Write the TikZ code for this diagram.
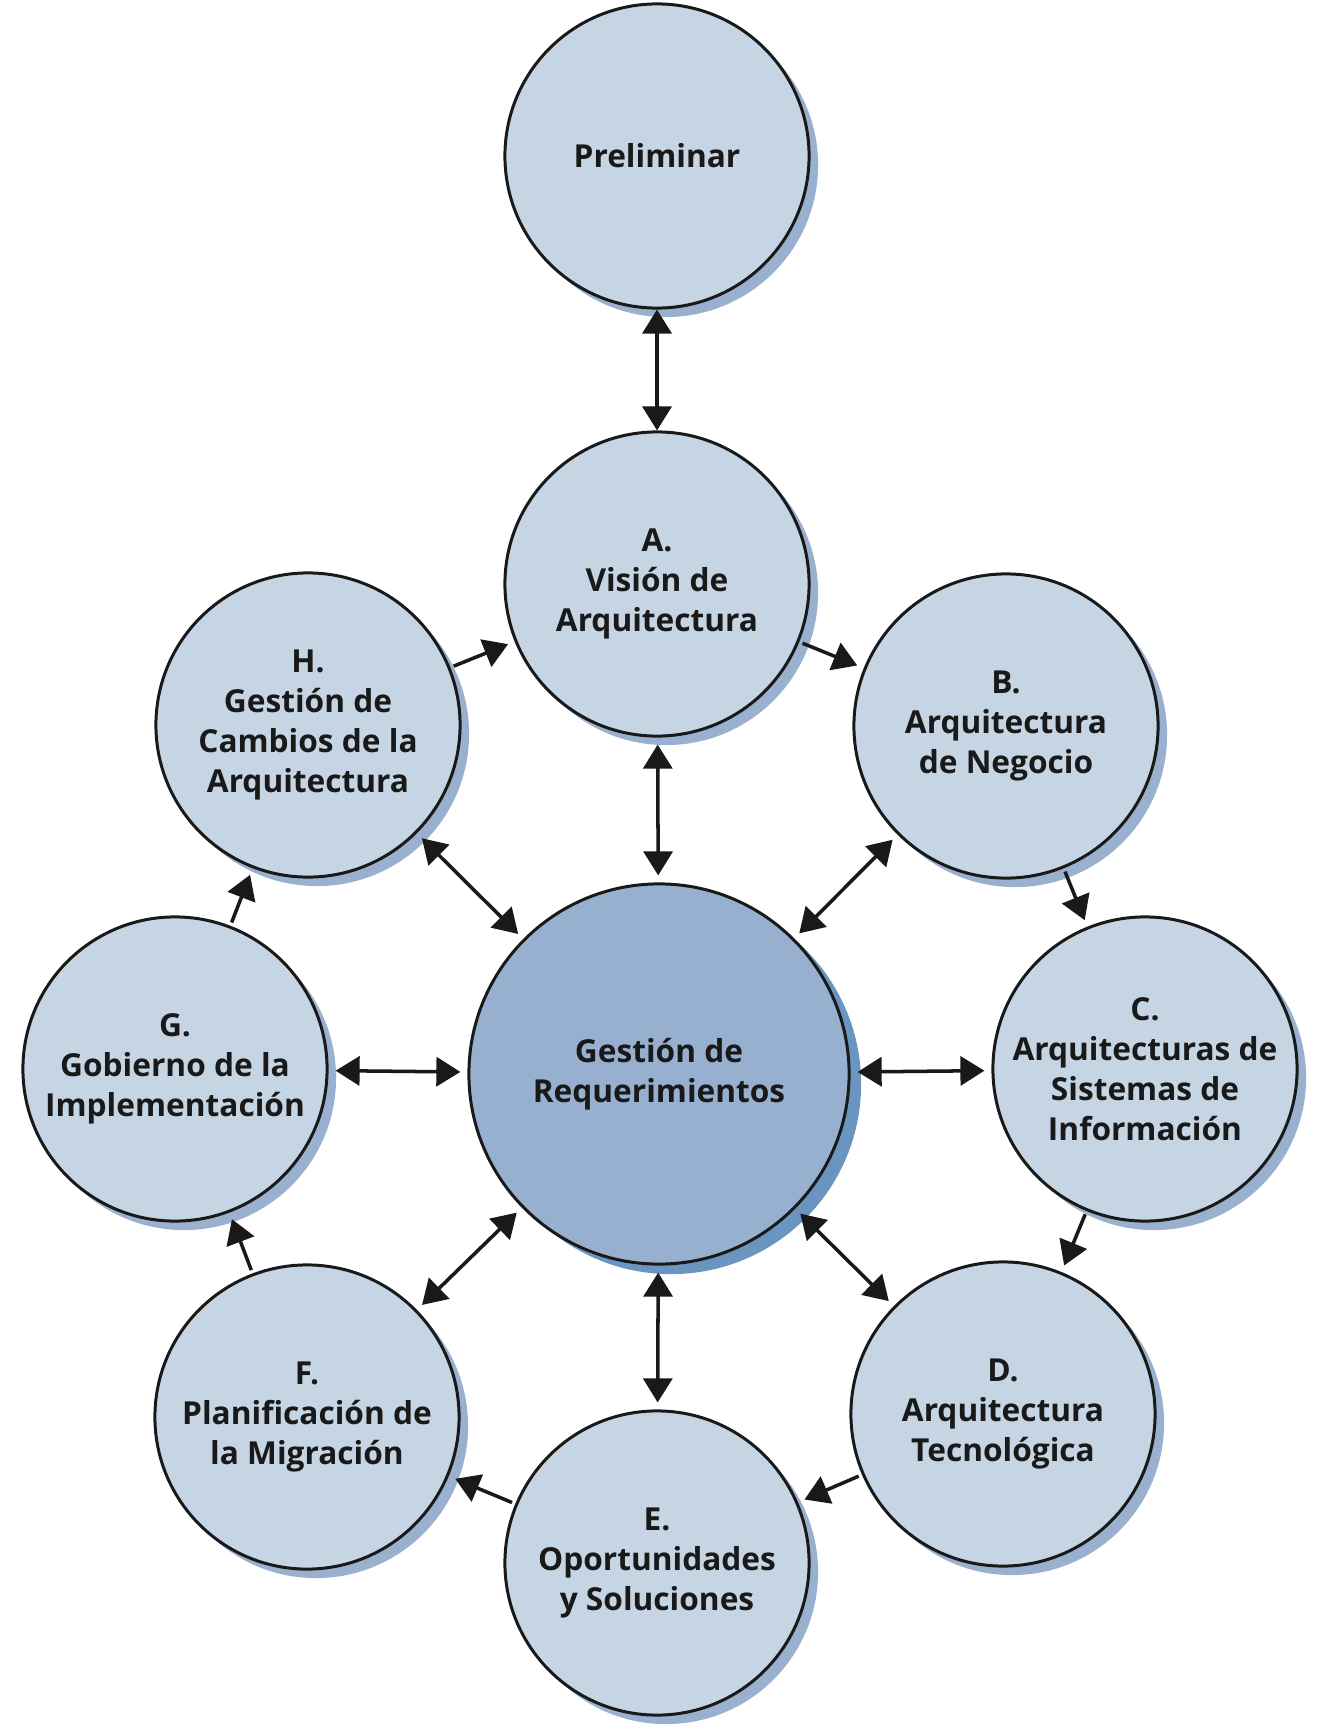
\documentclass[tikz,border=0pt]{standalone}
\usepackage{fontspec}
\setmainfont{Open Sans}
\usetikzlibrary{arrows.meta,shadows}
\definecolor{PhaseClr}{rgb}{0.776,0.835,0.890}
\definecolor{PhaseShdClr}{rgb}{0.604,0.690,0.812}
\definecolor{ReqClr}{rgb}{0.596,0.690,0.812}
\definecolor{ReqShdClr}{rgb}{0.420,0.584,0.757}
\definecolor{InkClr}{rgb}{0.1,0.1,0.1}

\begin{document}
\begin{tikzpicture}[x=0.01cm,y=-0.01cm,
  bubble/.style={circle,draw=InkClr,line width=0.85pt,inner sep=0pt,align=center,
    text=InkClr,font=\fontsize{9}{11.4}\selectfont\bfseries},
  phase/.style={bubble,fill=PhaseClr,minimum size=3.04cm,
    drop shadow={shadow xshift=0.09cm,shadow yshift=-0.09cm,fill=PhaseShdClr,opacity=1}},
  req/.style={bubble,fill=ReqClr,minimum size=3.8cm,
    drop shadow={shadow xshift=0.12cm,shadow yshift=-0.10cm,fill=ReqShdClr,opacity=1}},
  link/.style={draw=InkClr,line width=1pt,
    {Triangle[length=0.24cm,width=0.29cm]}-{Triangle[length=0.24cm,width=0.29cm]}},
  flow/.style={draw=InkClr,line width=1pt,-{Triangle[length=0.24cm,width=0.29cm]}}]
\useasboundingbox (0,0) rectangle (1328,1730);

\node[phase] (P) at (657,156) {Preliminar};
\node[phase] (A) at (657,584) {A.\\Visión de\\Arquitectura};
\node[phase] (B) at (1006,726) {B.\\Arquitectura\\de Negocio};
\node[phase] (C) at (1145,1069) {C.\\Arquitecturas de\\Sistemas de\\Información};
\node[phase] (D) at (1003,1414) {D.\\Arquitectura\\Tecnológica};
\node[phase] (E) at (657,1563) {E.\\Oportunidades\\y Soluciones};
\node[phase] (F) at (307,1417) {F.\\Planificación de\\la Migración};
\node[phase] (G) at (175,1069) {G.\\Gobierno de la\\Implementación};
\node[phase] (H) at (308,725) {H.\\Gestión de\\Cambios de la\\Arquitectura};

\node[req] (R) at (659,1074) {Gestión de\\Requerimientos};

\draw[link] (P) -- (A);
\foreach \n in {A,B,C,D,E,F,G,H}
  \draw[link,shorten <=2pt,shorten >=2pt] (\n) -- (R);

% ciclo de fases
\foreach \a/\b in {H/A,A/B,B/C,C/D,D/E,E/F,F/G,G/H}
  \draw[flow,shorten <=1pt,shorten >=2pt] (\a) -- (\b);

\end{tikzpicture}
\end{document}
